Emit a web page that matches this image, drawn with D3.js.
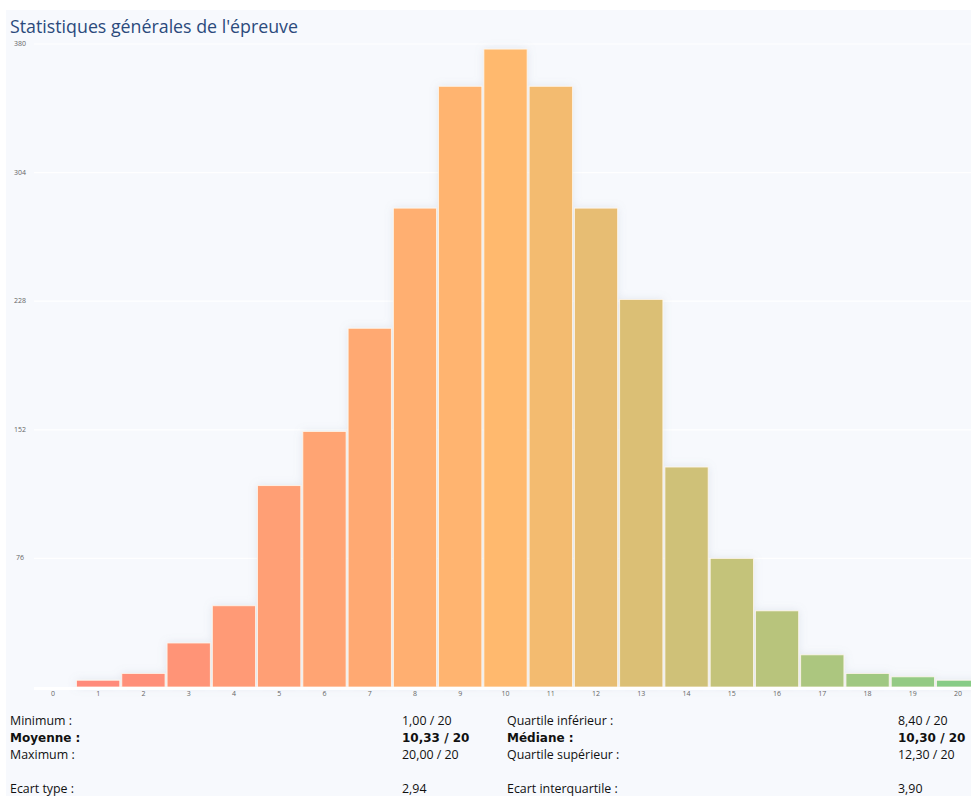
<!DOCTYPE html>
<html lang="fr">
<head>
<meta charset="UTF-8">
<title>Statistiques générales de l'épreuve</title>
<script src="https://d3js.org/d3.v7.min.js"></script>
<style>
    html, body { margin: 0; padding: 0; background: #ffffff; }
    svg { display: block; }
    .tick-y, .tick-x { font-family: "Open Sans", sans-serif; font-size: 7px; fill: #666; }
    .title { font-family: "Open Sans", sans-serif; font-size: 17.8px; fill: #2b4a7c; }
    .stat { font-family: "Open Sans", sans-serif; font-size: 12.4px; fill: #111; }
    .stat.bold { font-family: "DejaVu Sans", sans-serif; font-weight: bold; font-size: 12px; }
</style>
</head>
<body>
<svg width="971" height="796"></svg>
<script>
// notes 0..20 et nombre de copies
const notes = d3.range(0, 21);
const effectifs = [0, 4, 8, 26, 48, 119, 151, 212, 283, 355, 377, 355, 283, 229, 130, 76, 45, 19, 8, 6, 4];
const yTicks = [76, 152, 228, 304, 380];

const statsGauche = [
    { label: "Minimum :", value: "1,00 / 20", bold: false },
    { label: "Moyenne :", value: "10,33 / 20", bold: true },
    { label: "Maximum :", value: "20,00 / 20", bold: false },
    { label: "", value: "", bold: false },
    { label: "Ecart type :", value: "2,94", bold: false }
];
const statsDroite = [
    { label: "Quartile inférieur :", value: "8,40 / 20", bold: false },
    { label: "Médiane :", value: "10,30 / 20", bold: true },
    { label: "Quartile supérieur :", value: "12,30 / 20", bold: false },
    { label: "", value: "", bold: false },
    { label: "Ecart interquartile :", value: "3,90", bold: false }
];

const width = 971, height = 796;
const svg = d3.select("svg");

const defs = svg.append("defs");
const shadow = defs.append("filter").attr("id", "shadow")
    .attr("x", "-20%").attr("y", "-20%").attr("width", "140%").attr("height", "140%");
shadow.append("feDropShadow")
    .attr("dx", 0).attr("dy", 0).attr("stdDeviation", 4)
    .attr("flood-color", "#8090a8").attr("flood-opacity", 0.18);

// fond
svg.append("rect").attr("x", 6).attr("y", 10).attr("width", width - 6).attr("height", height - 10)
    .attr("fill", "#f7f9fd");

svg.append("text").attr("class", "title")
    .attr("x", 10).attr("y", 33)
    .text("Statistiques générales de l'épreuve");

const x = d3.scaleBand()
    .domain(notes)
    .range([30.4, 980.6])
    .paddingInner(0.045)
    .paddingOuter(0.02);

const y = d3.scaleLinear()
    .domain([0, 380])
    .range([687, 44]);

const color = d3.scaleLinear()
    .domain([1, 10, 20])
    .range(["#ff8a7a", "#ffb96e", "#88cc86"])
    .interpolate(d3.interpolateRgb);

// grille
svg.append("g")
    .selectAll("line")
    .data(yTicks)
    .join("line")
    .attr("x1", 34).attr("x2", width)
    .attr("y1", d => y(d)).attr("y2", d => y(d))
    .attr("stroke", "#ffffff").attr("stroke-width", 1.2);

svg.append("g")
    .selectAll("text")
    .data(yTicks)
    .join("text")
    .attr("class", "tick-y")
    .attr("x", 20).attr("y", d => y(d) + 2)
    .attr("text-anchor", "middle")
    .text(d => d);

// barres
svg.append("g")
    .attr("filter", "url(#shadow)")
    .selectAll("rect")
    .data(notes.filter(n => effectifs[n] > 0))
    .join("rect")
    .attr("x", d => x(d))
    .attr("y", d => y(effectifs[d]))
    .attr("width", x.bandwidth())
    .attr("height", d => y(0) - y(effectifs[d]))
    .attr("fill", d => color(d))
    .attr("stroke", "#fff6ea")
    .attr("stroke-width", 0.8);

// ligne de base
svg.append("line")
    .attr("x1", 34).attr("x2", width)
    .attr("y1", y(0) + 1.5).attr("y2", y(0) + 1.5)
    .attr("stroke", "#ffffff").attr("stroke-width", 3);

svg.append("g")
    .selectAll("text")
    .data(notes)
    .join("text")
    .attr("class", "tick-x")
    .attr("x", d => x(d) + x.bandwidth() / 2)
    .attr("y", 696)
    .attr("text-anchor", "middle")
    .text(d => d);

// statistiques
const rowY = i => 725 + i * 17;

function drawStats(rows, xLabel, xValue) {
    const g = svg.append("g");
    rows.forEach((r, i) => {
        if (!r.label) return;
        g.append("text").attr("class", r.bold ? "stat bold" : "stat")
            .attr("x", xLabel).attr("y", rowY(i)).text(r.label);
        g.append("text").attr("class", r.bold ? "stat bold" : "stat")
            .attr("x", xValue).attr("y", rowY(i)).text(r.value);
    });
}
drawStats(statsGauche, 10, 402);
drawStats(statsDroite, 507, 898);
</script>
</body>
</html>
